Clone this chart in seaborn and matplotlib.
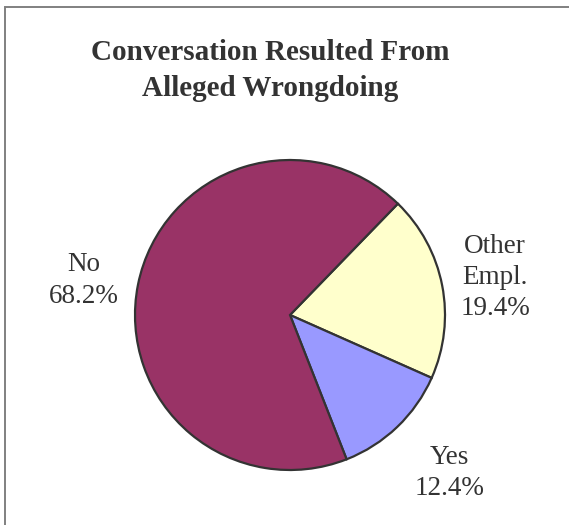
import numpy as np
import matplotlib
matplotlib.use("Agg")
import matplotlib.pyplot as plt
from matplotlib.patches import Rectangle
import seaborn as sns

# Survey breakdown
categories = ["Other\nEmpl.", "Yes", "No"]
shares = [19.4, 12.4, 68.2]
slice_colors = ["#FFFFCC", "#9999FF", "#993366"]

title = "Conversation Resulted From\nAlleged Wrongdoing"

sns.set_theme(style="white")
plt.rcParams["font.family"] = ["Liberation Serif", "DejaVu Serif"]

W, H = 569, 525
fig = plt.figure(figsize=(W / 100, H / 100), dpi=100)
fig.patch.set_facecolor("white")

# pie area: centre (290, 315) px, radius 155 px
cx, cy, r = 290, 315, 155
ax = fig.add_axes([(cx - r) / W, (H - cy - r) / H, 2 * r / W, 2 * r / H])

wedges, _ = ax.pie(
    shares,
    colors=slice_colors,
    startangle=45.9,
    counterclock=False,
    radius=1,
    wedgeprops=dict(edgecolor="#333333", linewidth=1.6),
)
ax.set_xlim(-1, 1)
ax.set_ylim(-1, 1)
ax.set_aspect("equal")
ax.axis("off")

# labels sit outside the rim, offset (in pixels) from each slice's mid-angle
label_offsets = [(53, 8), (52, -46), (-54, 4)]
for w, cat, val, off in zip(wedges, categories, shares, label_offsets):
    mid = np.deg2rad((w.theta1 + w.theta2) / 2)
    ax.annotate(f"{cat}\n{val:.1f}%", xy=(np.cos(mid), np.sin(mid)),
                xytext=off, textcoords="offset pixels",
                ha="center", va="center", fontsize=19.5, color="#333333",
                linespacing=1.33)

fig.text(270 / W, 1 - 96 / H, title, ha="center", va="baseline",
         fontsize=21, fontweight="bold", color="#333333", linespacing=1.44)

# chart frame
fig.patches.append(Rectangle((4.5 / W, -0.1), 1.2, (H - 7.5) / H + 0.1,
                             transform=fig.transFigure, fill=False,
                             edgecolor="#808080", linewidth=1.4))

fig.savefig("out.png", dpi=100, facecolor="white")
